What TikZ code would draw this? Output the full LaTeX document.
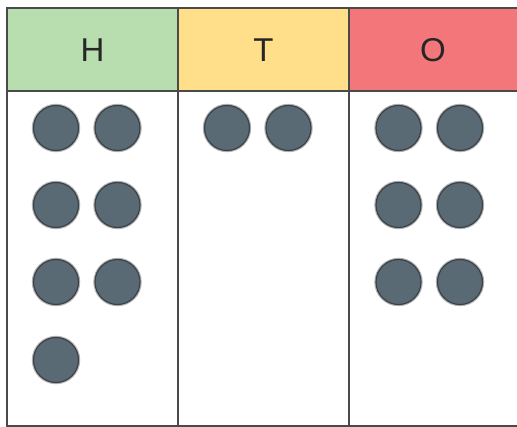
\documentclass[tikz,border=0pt]{standalone}
\usepackage{fontspec}
\setmainfont{Liberation Sans}
\definecolor{hgreen}{HTML}{B8DEAF}
\definecolor{tyellow}{HTML}{FFDF8A}
\definecolor{ored}{HTML}{F2767A}
\definecolor{ctr}{HTML}{5A6A74}
\definecolor{ctrline}{HTML}{3A4248}
\definecolor{gridline}{HTML}{4A4A4A}
\tikzset{
  counter/.style={circle, minimum size=45pt, inner sep=0pt, fill=ctr, draw=ctrline, line width=1.2pt,
    preaction={draw=black!30, line width=3.4pt}},
  headtxt/.style={font=\fontsize{33}{36}\selectfont, text=black!85},
  gridl/.style={draw=gridline, line width=2pt}
}
\begin{document}
\begin{tikzpicture}[x=1pt,y=-1pt]
\useasboundingbox (0,0) rectangle (517,427);
\fill[white] (0,0) rectangle (517,427);
% header cells
\fill[hgreen] (7,8) rectangle (178,91);
\fill[tyellow] (178,8) rectangle (349,91);
\fill[ored] (349,8) rectangle (517,91);
\node[headtxt] (hH) at (92.5,50) {H};
\node[headtxt] (hT) at (263.5,50) {T};
\node[headtxt] (hO) at (433,50) {O};
% grid
\draw[gridl] (7,8) -- (517,8);
\draw[gridl] (7,91) -- (517,91);
\draw[gridl] (7,426) -- (517,426);
\draw[gridl] (7,7) -- (7,427);
\draw[gridl] (178,8) -- (178,427);
\draw[gridl] (349,8) -- (349,427);
% H counters
\node[counter] (h1) at (56,128) {};
\node[counter] (h2) at (117.5,128) {};
\node[counter] (h3) at (56,205) {};
\node[counter] (h4) at (117.5,205) {};
\node[counter] (h5) at (56,282) {};
\node[counter] (h6) at (117.5,282) {};
\node[counter] (h7) at (56,360) {};
% T counters
\node[counter] (t1) at (227,128) {};
\node[counter] (t2) at (288.5,128) {};
% O counters
\node[counter] (o1) at (398.5,128) {};
\node[counter] (o2) at (460,128) {};
\node[counter] (o3) at (398.5,205) {};
\node[counter] (o4) at (460,205) {};
\node[counter] (o5) at (398.5,282) {};
\node[counter] (o6) at (460,282) {};
\end{tikzpicture}
\end{document}
